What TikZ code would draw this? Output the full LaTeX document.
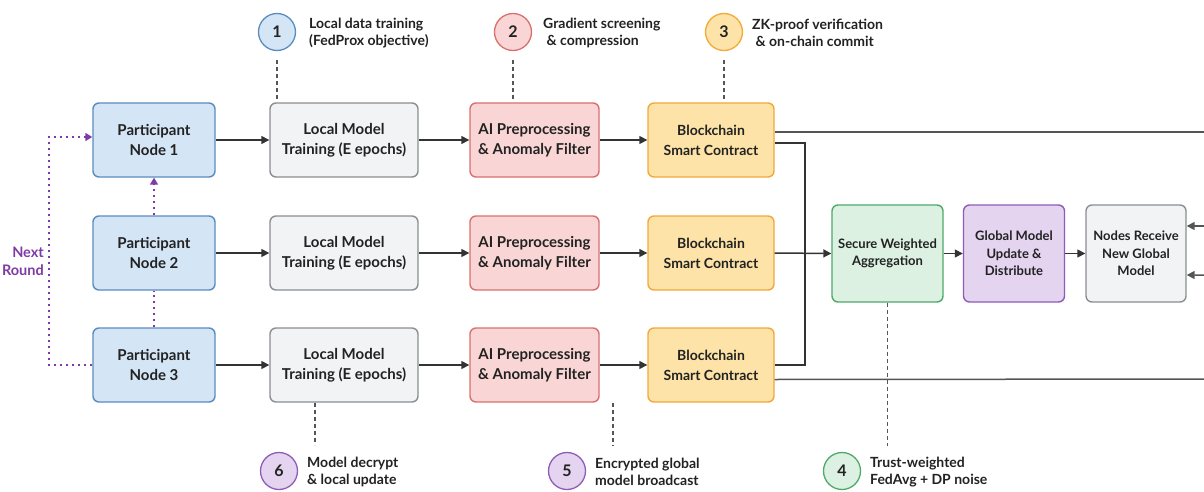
\documentclass[tikz,border=0pt]{standalone}
\usepackage{fontspec}
\setmainfont{Lato}
\usetikzlibrary{arrows.meta}

\definecolor{ink}{HTML}{222222}
\definecolor{wire}{HTML}{333333}
\definecolor{guide}{HTML}{555555}
\definecolor{blueF}{HTML}{D4E5F5}
\definecolor{blueD}{HTML}{5A8CBF}
\definecolor{grayF}{HTML}{F2F3F4}
\definecolor{grayD}{HTML}{8A8F93}
\definecolor{redF}{HTML}{F9D6D5}
\definecolor{redD}{HTML}{D9706E}
\definecolor{yelF}{HTML}{FDE3A7}
\definecolor{yelD}{HTML}{F2A93B}
\definecolor{grnF}{HTML}{DDF1E3}
\definecolor{grnD}{HTML}{4DAA6B}
\definecolor{purF}{HTML}{E4D4EF}
\definecolor{purD}{HTML}{8E5CB8}
\definecolor{loop}{HTML}{7E3BA6}

\tikzset{
  box/.style={draw, rounded corners=6pt, line width=1.4pt, align=center,
    text=ink, inner sep=2pt, minimum height=74pt,
    font=\bfseries\fontsize{15}{20}\selectfont},
  pbox/.style={box, fill=blueF, draw=blueD, minimum width=122pt},
  lbox/.style={box, fill=grayF, draw=grayD, minimum width=148pt},
  abox/.style={box, fill=redF, draw=redD, minimum width=129pt},
  bbox/.style={box, fill=yelF, draw=yelD, minimum width=126pt,
    font=\bfseries\fontsize{14}{20}\selectfont},
  cbox/.style={box, minimum height=97pt, minimum width=104pt,
    font=\bfseries\fontsize{13}{17.5}\selectfont},
  badge/.style={circle, minimum size=37pt, inner sep=0pt, line width=1.3pt,
    text=ink, font=\bfseries\fontsize{16}{16}\selectfont},
  note/.style={anchor=west, align=left, inner sep=0pt, text=ink,
    font=\bfseries\fontsize{14}{17}\selectfont},
  wireline/.style={draw=wire, line width=1.5pt},
  arr/.style={wireline, -{Triangle[length=8pt,width=8pt]}},
  longline/.style={draw=guide, line width=1.5pt},
  longarr/.style={longline, -{Triangle[length=8pt,width=8pt]}},
  guideline/.style={draw=guide, line width=1.2pt, dash pattern=on 4pt off 3pt},
  roundline/.style={draw=loop, line width=1.5pt, dash pattern=on 2pt off 4pt},
  roundarr/.style={roundline, -{Triangle[length=7pt,width=8pt]}},
}

\begin{document}
\begin{tikzpicture}[x=1pt, y=-1pt]
\useasboundingbox (0,0) rectangle (1204,492);
\clip (0,0) rectangle (1204,492);
\fill[white] (0,0) rectangle (1204,492);

% three participant rows
\foreach \r/\y in {1/140, 2/253, 3/365} {
  \node[pbox] (P\r) at (154,\y) {Participant\\Node \r};
  \node[lbox] (L\r) at (344,\y) {Local Model\\Training (E epochs)};
  \node[abox] (A\r) at (534.5,\y) {AI Preprocessing\\\& Anomaly Filter};
  \node[bbox] (B\r) at (711,\y) {Blockchain\\Smart Contract};
  \draw[arr] (P\r.east) -- (L\r.west);
  \draw[arr] (L\r.east) -- (A\r.west);
  \draw[arr] (A\r.east) -- (B\r.west);
}

% aggregation and distribution
\node[cbox, fill=grnF, draw=grnD, minimum width=111pt] (S) at (887.5,253.5) {Secure Weighted\\Aggregation};
\node[cbox, fill=purF, draw=purD, minimum width=101pt] (G) at (1014,253.5) {Global Model\\Update \&\\Distribute};
\node[cbox, fill=grayF, draw=grayD, minimum width=100pt] (R) at (1136,253.5) {Nodes Receive\\New Global\\Model};

\draw[wireline] ([yshift=-3pt]B1.east) -| (805,253);
\draw[wireline] (B3.east) -| (805,253);
\draw[arr] (B2.east) -- (S.west);
\draw[arr] (S.east) -- (G.west);
\draw[arr] (G.east) -- (R.west);

% return paths around the right side
\draw[longarr] ([yshift=8pt]B1.east) -- (1230,132) -- (1230,226) -- ([yshift=27.5pt]R.east);
\draw[longarr] ([yshift=-14.5pt]B3.east) -- (1230,379) -- (1230,275) -- ([yshift=-21.5pt]R.east);

% next-round feedback
\draw[roundarr] (P3.west) -- (49,365) -- (49,137) -- ([yshift=3pt]P1.west);
\draw[roundline] (P3.north) -- (P2.south);
\draw[roundarr] (P2.north) -- (P1.south);
\node[anchor=east, align=right, inner sep=0pt, text=loop,
  font=\bfseries\fontsize{14.5}{18}\selectfont] (NR) at (44,261) {Next\\Round};

% numbered step badges
\node[badge, fill=blueF, draw=blueD] (c1) at (277,32) {1};
\node[note] (t1) at (309,33) {Local data training\\(FedProx objective)};
\node[badge, fill=redF, draw=redD] (c2) at (513,32) {2};
\node[note] (t2) at (543,33) {Gradient screening\\\ \& compression};
\node[badge, fill=yelF, draw=yelD] (c3) at (724,32) {3};
\node[note] (t3) at (752,33) {ZK-proof verification\\\ \& on-chain commit};
\node[badge, fill=grnF, draw=grnD] (c4) at (842,471) {4};
\node[note] (t4) at (870,472) {Trust-weighted\\FedAvg + DP noise};
\node[badge, fill=purF, draw=purD] (c5) at (567,471) {5};
\node[note] (t5) at (595,472) {Encrypted global\\model broadcast};
\node[badge, fill=purF, draw=purD] (c6) at (279,471) {6};
\node[note] (t6) at (307,472) {Model decrypt\\\& local update};

% dashed guides from badges to stages
\coordinate (g5) at (613,403);
\draw[guideline] (c1.south |- 0,60) -- (c1.south |- 0,100);
\draw[guideline] (c2.south |- 0,60) -- (c2.south |- 0,100);
\draw[guideline] (c3.south |- 0,60) -- (c3.south |- 0,100);
\draw[guideline] ([xshift=-29pt]L3.south) -- ++(0,-42pt);
\draw[guideline] (g5) -- (613,446);
\draw[guideline] (S.south) -- (887.5,446);
\end{tikzpicture}
\end{document}
